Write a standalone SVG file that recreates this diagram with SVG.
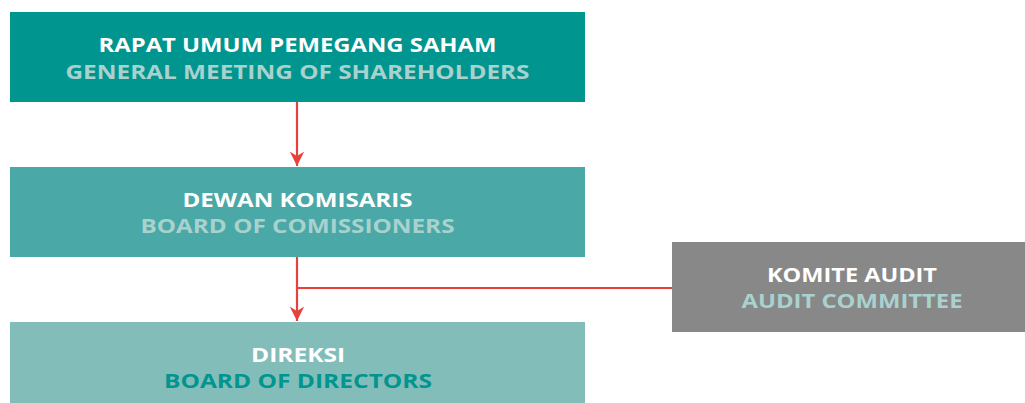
<svg xmlns="http://www.w3.org/2000/svg" width="1025" height="403" viewBox="0 0 1025 403">
<style>
text{font-family:"Open Sans","Liberation Sans",sans-serif;font-weight:700;font-size:20px;text-anchor:middle}
.w{fill:#ffffff}
.l{fill:#a9d2cf}
.d{fill:#00958e}
.c{stroke:#e8413c;stroke-width:2.2;fill:none}
</style>
<defs>
<marker id="ah" viewBox="0 0 10 10" refX="10" refY="5" markerWidth="7" markerHeight="6.5" orient="auto" markerUnits="strokeWidth">
<path d="M0,0 L10,5 L0,10 L3,5 Z" fill="#e8413c"/>
</marker>
</defs>
<rect width="1025" height="403" fill="#ffffff"/>
<g id="connectors">
<path class="c" d="M297,102 V166" marker-end="url(#ah)"/>
<path class="c" d="M297,257 V321" marker-end="url(#ah)"/>
<path class="c" d="M297,288 H672"/>
</g>
<g id="rups">
<rect x="10" y="12" width="575" height="90" fill="#00958e"/>
<text class="w" x="297.5" y="52" textLength="398" lengthAdjust="spacingAndGlyphs">RAPAT UMUM PEMEGANG SAHAM</text>
<text class="l" x="297.5" y="79" textLength="464" lengthAdjust="spacingAndGlyphs">GENERAL MEETING OF SHAREHOLDERS</text>
</g>
<g id="dekom">
<rect x="10" y="167" width="575" height="90" fill="#4aa8a6"/>
<text class="w" x="297.5" y="207" textLength="230" lengthAdjust="spacingAndGlyphs">DEWAN KOMISARIS</text>
<text class="l" x="297.5" y="233" textLength="314" lengthAdjust="spacingAndGlyphs">BOARD OF COMISSIONERS</text>
</g>
<g id="direksi">
<rect x="10" y="322" width="575" height="81" fill="#83bdba"/>
<text class="w" x="298" y="362" textLength="94" lengthAdjust="spacingAndGlyphs">DIREKSI</text>
<text class="d" x="298" y="388" textLength="268" lengthAdjust="spacingAndGlyphs">BOARD OF DIRECTORS</text>
</g>
<g id="audit">
<rect x="672" y="242" width="353" height="90" fill="#888888"/>
<text class="w" x="852" y="282" textLength="170" lengthAdjust="spacingAndGlyphs">KOMITE AUDIT</text>
<text class="l" x="852" y="308" textLength="221" lengthAdjust="spacingAndGlyphs">AUDIT COMMITTEE</text>
</g>
</svg>
